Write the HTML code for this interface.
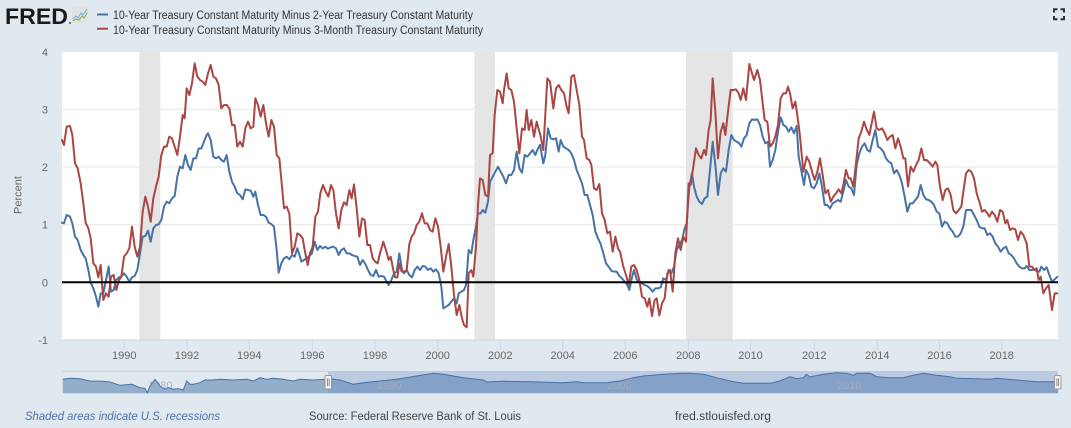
<!DOCTYPE html>
<html><head><meta charset="utf-8"><style>
html,body{margin:0;padding:0;background:#e1e9f0;}
svg{display:block;font-family:"Liberation Sans",Arial,sans-serif;}
</style></head><body>
<svg width="1071" height="428" viewBox="0 0 1071 428" xmlns="http://www.w3.org/2000/svg">
<rect x="0" y="0" width="1071" height="428" fill="#e1e9f0"/>

<!-- Logo -->
<text x="5" y="24" font-size="22" font-weight="bold" fill="#1a1a1a" textLength="63" lengthAdjust="spacingAndGlyphs">FRED</text>
<circle cx="70" cy="23" r="1" fill="#555"/>
<rect x="72" y="6" width="16" height="17" rx="1.5" fill="#dfe2e5"/>
<polyline points="73,19 76,16 78,18 81,13 83,15 87,9" fill="none" stroke="#7fa7d8" stroke-width="1"/>
<polyline points="73,21 76,19 79,20 82,16 84,18 87,13" fill="none" stroke="#7cb342" stroke-width="1"/>

<!-- Legend -->
<line x1="97" y1="14.5" x2="108" y2="14.5" stroke="#4572a7" stroke-width="2"/>
<text x="113" y="19" font-size="11.5" fill="#333" textLength="360" lengthAdjust="spacingAndGlyphs">10-Year Treasury Constant Maturity Minus 2-Year Treasury Constant Maturity</text>
<line x1="97" y1="28.7" x2="108" y2="28.7" stroke="#aa4643" stroke-width="2"/>
<text x="113" y="34" font-size="11.5" fill="#333" textLength="370" lengthAdjust="spacingAndGlyphs">10-Year Treasury Constant Maturity Minus 3-Month Treasury Constant Maturity</text>

<!-- Fullscreen icon -->
<g fill="none" stroke="#333" stroke-width="2">
<path d="M1054,12.5 V9.3 H1057.5"/>
<path d="M1060.5,9.3 H1064 V12.5"/>
<path d="M1054,16 V19.2 H1057.5"/>
<path d="M1060.5,19.2 H1064 V16"/>
</g>

<!-- Plot area -->
<rect x="62" y="52" width="996" height="288" fill="#ffffff"/>
<g stroke="#e6e6e6" stroke-width="1">
<line x1="62" y1="109.3" x2="1058" y2="109.3"/>
<line x1="62" y1="167" x2="1058" y2="167"/>
<line x1="62" y1="224.7" x2="1058" y2="224.7"/>
</g>
<g fill="#e5e5e5">
<rect x="139.3" y="52" width="21" height="288"/>
<rect x="474.3" y="52" width="20.7" height="288"/>
<rect x="686" y="52" width="46.7" height="288"/>
</g>
<line x1="62" y1="340" x2="1058" y2="340" stroke="#ccd6eb" stroke-width="1"/>
<g stroke="#ccd6eb" stroke-width="1">
<line x1="124.3" y1="340" x2="124.3" y2="350"/>
<line x1="187" y1="340" x2="187" y2="350"/>
<line x1="249.3" y1="340" x2="249.3" y2="350"/>
<line x1="312.3" y1="340" x2="312.3" y2="350"/>
<line x1="375" y1="340" x2="375" y2="350"/>
<line x1="437.7" y1="340" x2="437.7" y2="350"/>
<line x1="500.3" y1="340" x2="500.3" y2="350"/>
<line x1="562.7" y1="340" x2="562.7" y2="350"/>
<line x1="625.3" y1="340" x2="625.3" y2="350"/>
<line x1="688.3" y1="340" x2="688.3" y2="350"/>
<line x1="750.5" y1="340" x2="750.5" y2="350"/>
<line x1="814.3" y1="340" x2="814.3" y2="350"/>
<line x1="877.3" y1="340" x2="877.3" y2="350"/>
<line x1="939.5" y1="340" x2="939.5" y2="350"/>
<line x1="1001.7" y1="340" x2="1001.7" y2="350"/>
</g>

<!-- Y labels -->
<g font-size="11" fill="#666" text-anchor="end">
<text x="48" y="56">4</text>
<text x="48" y="113.3">3</text>
<text x="48" y="171">2</text>
<text x="48" y="228.7">1</text>
<text x="48" y="286.3">0</text>
<text x="48" y="344">-1</text>
</g>
<text transform="translate(21.5,195) rotate(-90)" font-size="11" fill="#666" text-anchor="middle">Percent</text>

<!-- X labels -->
<g font-size="11" fill="#666" text-anchor="middle">
<text x="124.3" y="359">1990</text>
<text x="187" y="359">1992</text>
<text x="249.3" y="359">1994</text>
<text x="312.3" y="359">1996</text>
<text x="375" y="359">1998</text>
<text x="437.7" y="359">2000</text>
<text x="500.3" y="359">2002</text>
<text x="562.7" y="359">2004</text>
<text x="625.3" y="359">2006</text>
<text x="688.3" y="359">2008</text>
<text x="750.5" y="359">2010</text>
<text x="814.3" y="359">2012</text>
<text x="877.3" y="359">2014</text>
<text x="939.5" y="359">2016</text>
<text x="1001.7" y="359">2018</text>
</g>

<!-- Blue series (10Y-2Y) -->
<g fill="none" stroke="#4572a7" stroke-width="2" stroke-linejoin="round" stroke-linecap="round">
<g transform="translate(0,40) scale(0.333333)">
<polyline vector-effect="non-scaling-stroke" points="186,548 192,550 200,525 210,530 217,550 225,590 233,600 242,630 250,645 257,655 265,690 272,728 280,745 288,770 295,800 302,760 310,760 318,720 326,680 333,755 341,750 349,720 357,712 364,710 372,700 380,710 388,725 396,712 404,708 412,690 420,640 428,590 436,588 444,572 452,605 460,565 468,555 476,553 484,540 492,500 500,485 508,490 516,475 524,468 532,410 540,380 548,385 556,345 564,375 572,390 580,355 588,355 596,325 604,325 612,305 620,285 624,280 632,300 640,350 648,355 656,350 664,360 672,365 680,345 688,395 696,425 704,440 712,460 720,465 728,478 736,448 744,450 752,452 760,470 766,455 774,495 782,525 790,525 798,530 806,548 814,552 822,560 830,630 836,698 844,670 852,655 860,650 868,658 876,645 884,650 892,625 900,650"/>
</g>
<g transform="translate(280,40) scale(0.333333)">
<polyline vector-effect="non-scaling-stroke" points="60,650 64,665 72,660 80,655 88,648 96,640 104,605 112,630 120,618 128,625 136,620 144,626 152,622 160,620 168,625 176,645 184,630 192,625 200,640 208,640 216,645 224,648 232,650 240,675 248,660 256,672 264,690 272,705 280,708 288,690 296,710 304,708 312,710 320,725 326,735 334,720 342,700 350,695 358,640 366,690 372,700 380,690 388,705 396,712 404,690 412,680 420,690 428,678 436,680 444,690 452,685 460,695 468,688 476,700 484,740 490,805 498,800 506,795 514,785 522,775 530,790 536,760 544,755 552,750 558,735 566,630 574,640 580,600 588,560 594,520 602,520 608,510 616,518 624,485 630,425 638,410 646,395 654,380 662,395 670,410 678,430 686,405 694,405 702,390 710,335 718,385 726,398 734,345 742,350 750,340 758,330 766,345 774,325 780,315"/>
</g>
<g transform="translate(540,40) scale(0.333333)">
<polyline vector-effect="non-scaling-stroke" points="0,315 10,370 16,345 24,265 32,295 40,298 48,295 56,335 62,300 70,320 78,325 86,330 94,340 102,360 110,390 118,410 126,430 134,465 142,465 150,495 158,525 166,575 174,595 182,612 190,640 198,670 206,680 214,692 222,695 230,695 238,708 246,715 254,725 262,735 268,750 276,712 282,690 290,718 298,728 306,730 314,735 322,738 330,745 338,755 346,745 354,745 362,742 370,715 378,720 386,690 394,700 402,680 410,630 418,615 426,600 434,565 440,550 448,440 456,400 462,440 470,470 478,485 486,492 494,475 502,470 510,390 518,305 526,375 534,465 542,400 550,385 558,395 566,330 574,285 582,300 590,305 598,310 604,320 612,295 620,285 628,250 636,238 644,240 652,238 660,255 668,290 676,310 684,305 690,380 698,360 706,330 714,275 722,232 730,255 738,260 746,275 754,262 762,280 770,258 776,350"/>
</g>
<g transform="translate(800,40) scale(0.333333)">
<polyline vector-effect="non-scaling-stroke" points="-4,350 12,435 18,390 26,405 34,440 42,445 50,430 58,400 66,440 74,495 82,495 90,505 98,490 106,485 114,480 122,485 130,455 138,420 146,440 154,445 162,465 170,375 178,340 186,320 194,310 202,330 210,335 218,300 226,270 234,320 242,325 250,335 258,355 266,365 274,370 282,400 290,390 298,405 306,430 314,470 322,515 330,490 338,490 346,480 354,470 362,435 370,465 378,478 386,480 394,485 402,495 410,515 418,520 426,560 434,545 442,550 450,565 458,575 466,590 474,590 482,580 490,560 498,510 506,510 514,510 522,525 530,540 538,560 546,565 554,565 562,585 570,580 578,590 586,610 594,620 602,635 610,625 618,620 626,640 634,645 642,655 650,670 658,680 666,685 674,685 680,678 688,690 696,690 704,688 712,695 718,695 724,680 732,690 740,682 748,705 756,725 764,718 772,710"/>
</g>
</g>

<!-- Red series (10Y-3M) -->
<g fill="none" stroke="#aa4643" stroke-width="2" stroke-linejoin="round" stroke-linecap="round">
<g transform="translate(0,40) scale(0.333333)">
<polyline vector-effect="non-scaling-stroke" points="186,300 192,315 200,260 210,258 217,285 225,370 233,385 242,430 250,490 257,548 265,565 272,595 280,670 288,680 295,712 302,675 310,780 318,760 326,770 333,710 341,705 349,750 357,720 364,710 372,650 380,640 388,625 396,560 404,620 412,650 420,620 428,515 436,470 444,500 452,545 460,475 468,440 476,410 484,345 492,320 500,320 508,290 516,295 524,320 532,345 540,290 548,225 554,235 560,145 568,165 576,130 584,70 592,110 600,120 608,125 616,135 624,100 632,75 640,110 648,115 656,135 664,205 672,195 680,195 688,205 696,255 704,255 712,320 720,305 728,320 736,265 744,245 752,265 760,260 766,175 774,195 782,230 790,195 798,250 806,290 814,240 822,260 830,345 838,355 846,440 852,505 860,500 868,520 876,640 884,620 892,580 900,585"/>
</g>
<g transform="translate(280,40) scale(0.333333)">
<polyline vector-effect="non-scaling-stroke" points="60,585 68,595 75,635 83,675 90,640 98,620 106,530 114,515 121,460 129,435 137,455 145,470 153,435 160,450 168,520 176,565 184,510 192,487 200,495 208,450 215,475 222,433 230,505 238,590 246,535 254,540 262,615 270,615 278,655 286,665 293,670 300,640 310,605 318,630 326,660 332,650 340,690 345,712 352,712 358,670 365,695 372,695 380,690 388,612 395,590 402,580 410,555 418,545 426,520 434,550 442,550 450,570 458,575 466,535 474,560 482,620 490,695 498,650 506,612 514,680 522,765 530,825 538,795 546,835 552,855 560,862 566,700 574,690 580,710 588,620 594,495 600,415 608,420 616,465 624,470 630,345 638,340 644,225 652,150 660,155 668,190 672,150 680,100 686,145 694,150 702,185 710,265 718,340 726,265 734,270 740,210 746,270 754,240 762,290 770,245 778,275 780,280"/>
</g>
<g transform="translate(540,40) scale(0.333333)">
<polyline vector-effect="non-scaling-stroke" points="0,280 10,330 22,115 30,125 40,205 48,145 56,135 64,150 72,160 80,200 86,220 94,110 102,105 110,150 118,195 126,290 132,300 140,355 148,360 154,375 162,445 170,450 178,432 186,520 194,540 202,580 210,575 218,635 226,590 234,625 240,635 250,680 258,705 266,735 274,680 282,675 290,690 298,720 306,770 314,775 322,800 328,775 336,828 344,780 350,775 358,826 366,790 374,775 382,700 390,690 398,755 406,640 414,595 422,630 430,590 438,605 446,430 452,435 460,380 468,325 476,345 484,355 492,330 498,345 506,270 512,240 518,115 526,215 534,355 542,275 550,250 556,285 564,215 572,150 580,150 588,148 596,160 602,180 610,145 618,180 628,72 636,100 642,120 652,90 660,120 668,190 674,240 682,245 690,320 698,310 706,290 714,255 722,175 730,160 738,160 744,140 750,160 758,205 766,185 774,240 780,290"/>
</g>
<g transform="translate(800,40) scale(0.333333)">
<polyline vector-effect="non-scaling-stroke" points="0,290 10,395 20,350 28,365 36,395 44,420 52,395 60,355 68,405 76,460 84,450 92,485 100,470 108,460 116,448 124,460 130,435 138,390 146,415 152,415 160,440 168,370 176,295 184,275 192,245 200,268 208,285 215,250 222,215 230,265 238,270 246,265 254,280 262,300 270,290 278,285 286,325 294,295 302,320 310,355 316,355 324,440 332,380 340,395 348,375 356,360 364,325 372,360 380,360 390,370 398,380 406,365 412,375 420,440 428,480 436,450 444,445 452,465 460,510 468,520 476,510 484,500 490,455 498,400 506,390 514,395 522,415 530,460 538,485 546,515 554,510 562,520 568,530 576,515 584,525 592,545 600,510 608,515 616,550 622,540 630,570 638,565 646,568 654,600 662,575 670,585 680,610 688,680 696,680 704,690 710,685 716,720 722,710 730,760 738,745 746,735 756,810 764,760 772,760"/>
</g>
</g>

<!-- Zero line -->
<line x1="62" y1="282.3" x2="1058" y2="282.3" stroke="#000" stroke-width="2"/>

<!-- Navigator -->
<polygon fill="#93aecb" points="62.7,393.3 62.7,379.3 70,378.3 80,378.7 90,381 103.3,381.3 110,382 120,385.3 126.7,384.7 131.7,384.3 140,387.7 145,388.3 147.3,392.7 150,386 155,379.3 160,386 165,389.3 168.3,387.7 173.3,389.3 178.3,388.7 183.3,390 186.7,381 190,384.3 193.3,384.3 200,382.7 205,380 213.3,380 220,379.3 233.3,380 246.7,379.3 253.3,381 260,377.7 266.7,379.3 273.3,378.3 283.3,379.3 293.3,381 300,379.3 313.3,380 326.7,379.3 330,378.7 340,380 353.3,384.3 363.3,382.7 380,381 396.7,379.3 416.7,376 433.3,373.3 443.3,374.3 463.3,377.7 483.3,380 486.7,382 503.3,381.3 530,381.7 563.3,382.7 576.7,381.7 583.3,382.7 606.7,382.7 620,381 633.3,377.7 643.3,376 663.3,374.3 683.3,373.3 690,373.3 703.3,374.3 716.7,377.7 730,381 743.3,383.3 756.7,383.3 770,383.3 780,381 790,376.7 796.7,378.7 803.3,377.7 806.7,374.3 810,377 823.3,374.3 836.7,372.7 846.7,373.3 853.3,375.3 856.7,373.3 870,373.3 876.7,376.7 890,377.7 903.3,377.7 910,376 923.3,373.3 936.7,375.3 950,376.7 956.7,378.3 976.7,378.7 990,379.3 996.7,378.3 1016.7,380 1036.7,381.7 1058,381.7 1058,393.3"/>
<rect x="328" y="371" width="730" height="22.3" fill="rgba(102,133,194,0.3)"/>
<g font-size="11" fill="#a3adbd" fill-opacity="0.85">
<text x="148" y="389">1980</text>
<text x="377" y="389">1990</text>
<text x="607" y="389">2000</text>
<text x="837" y="389">2010</text>
</g>
<polyline fill="none" stroke="#4572a7" stroke-width="1" points="62.7,379.3 70,378.3 80,378.7 90,381 103.3,381.3 110,382 120,385.3 126.7,384.7 131.7,384.3 140,387.7 145,388.3 147.3,392.7 150,386 155,379.3 160,386 165,389.3 168.3,387.7 173.3,389.3 178.3,388.7 183.3,390 186.7,381 190,384.3 193.3,384.3 200,382.7 205,380 213.3,380 220,379.3 233.3,380 246.7,379.3 253.3,381 260,377.7 266.7,379.3 273.3,378.3 283.3,379.3 293.3,381 300,379.3 313.3,380 326.7,379.3 330,378.7 340,380 353.3,384.3 363.3,382.7 380,381 396.7,379.3 416.7,376 433.3,373.3 443.3,374.3 463.3,377.7 483.3,380 486.7,382 503.3,381.3 530,381.7 563.3,382.7 576.7,381.7 583.3,382.7 606.7,382.7 620,381 633.3,377.7 643.3,376 663.3,374.3 683.3,373.3 690,373.3 703.3,374.3 716.7,377.7 730,381 743.3,383.3 756.7,383.3 770,383.3 780,381 790,376.7 796.7,378.7 803.3,377.7 806.7,374.3 810,377 823.3,374.3 836.7,372.7 846.7,373.3 853.3,375.3 856.7,373.3 870,373.3 876.7,376.7 890,377.7 903.3,377.7 910,376 923.3,373.3 936.7,375.3 950,376.7 956.7,378.3 976.7,378.7 990,379.3 996.7,378.3 1016.7,380 1036.7,381.7 1058,381.7"/>
<line x1="62.7" y1="371.3" x2="328" y2="371.3" stroke="#cccccc" stroke-width="1"/>
<!-- handles -->
<g>
<rect x="325" y="375.5" width="6.5" height="13.5" rx="1" fill="#f2f2f2" stroke="#999" stroke-width="1"/>
<line x1="327.4" y1="378.5" x2="327.4" y2="386" stroke="#777" stroke-width="0.8"/>
<line x1="329.1" y1="378.5" x2="329.1" y2="386" stroke="#777" stroke-width="0.8"/>
<rect x="1054.5" y="375.5" width="6.5" height="13.5" rx="1" fill="#f2f2f2" stroke="#999" stroke-width="1"/>
<line x1="1056.9" y1="378.5" x2="1056.9" y2="386" stroke="#777" stroke-width="0.8"/>
<line x1="1058.6" y1="378.5" x2="1058.6" y2="386" stroke="#777" stroke-width="0.8"/>
</g>

<!-- Footer -->
<text x="25" y="420" font-size="11.5" font-style="italic" fill="#4a72aa" textLength="195" lengthAdjust="spacingAndGlyphs">Shaded areas indicate U.S. recessions</text>
<text x="309" y="420" font-size="11.5" fill="#444" textLength="212" lengthAdjust="spacingAndGlyphs">Source: Federal Reserve Bank of St. Louis</text>
<text x="675" y="420" font-size="11.5" fill="#444" textLength="96" lengthAdjust="spacingAndGlyphs">fred.stlouisfed.org</text>
</svg>
</body></html>
